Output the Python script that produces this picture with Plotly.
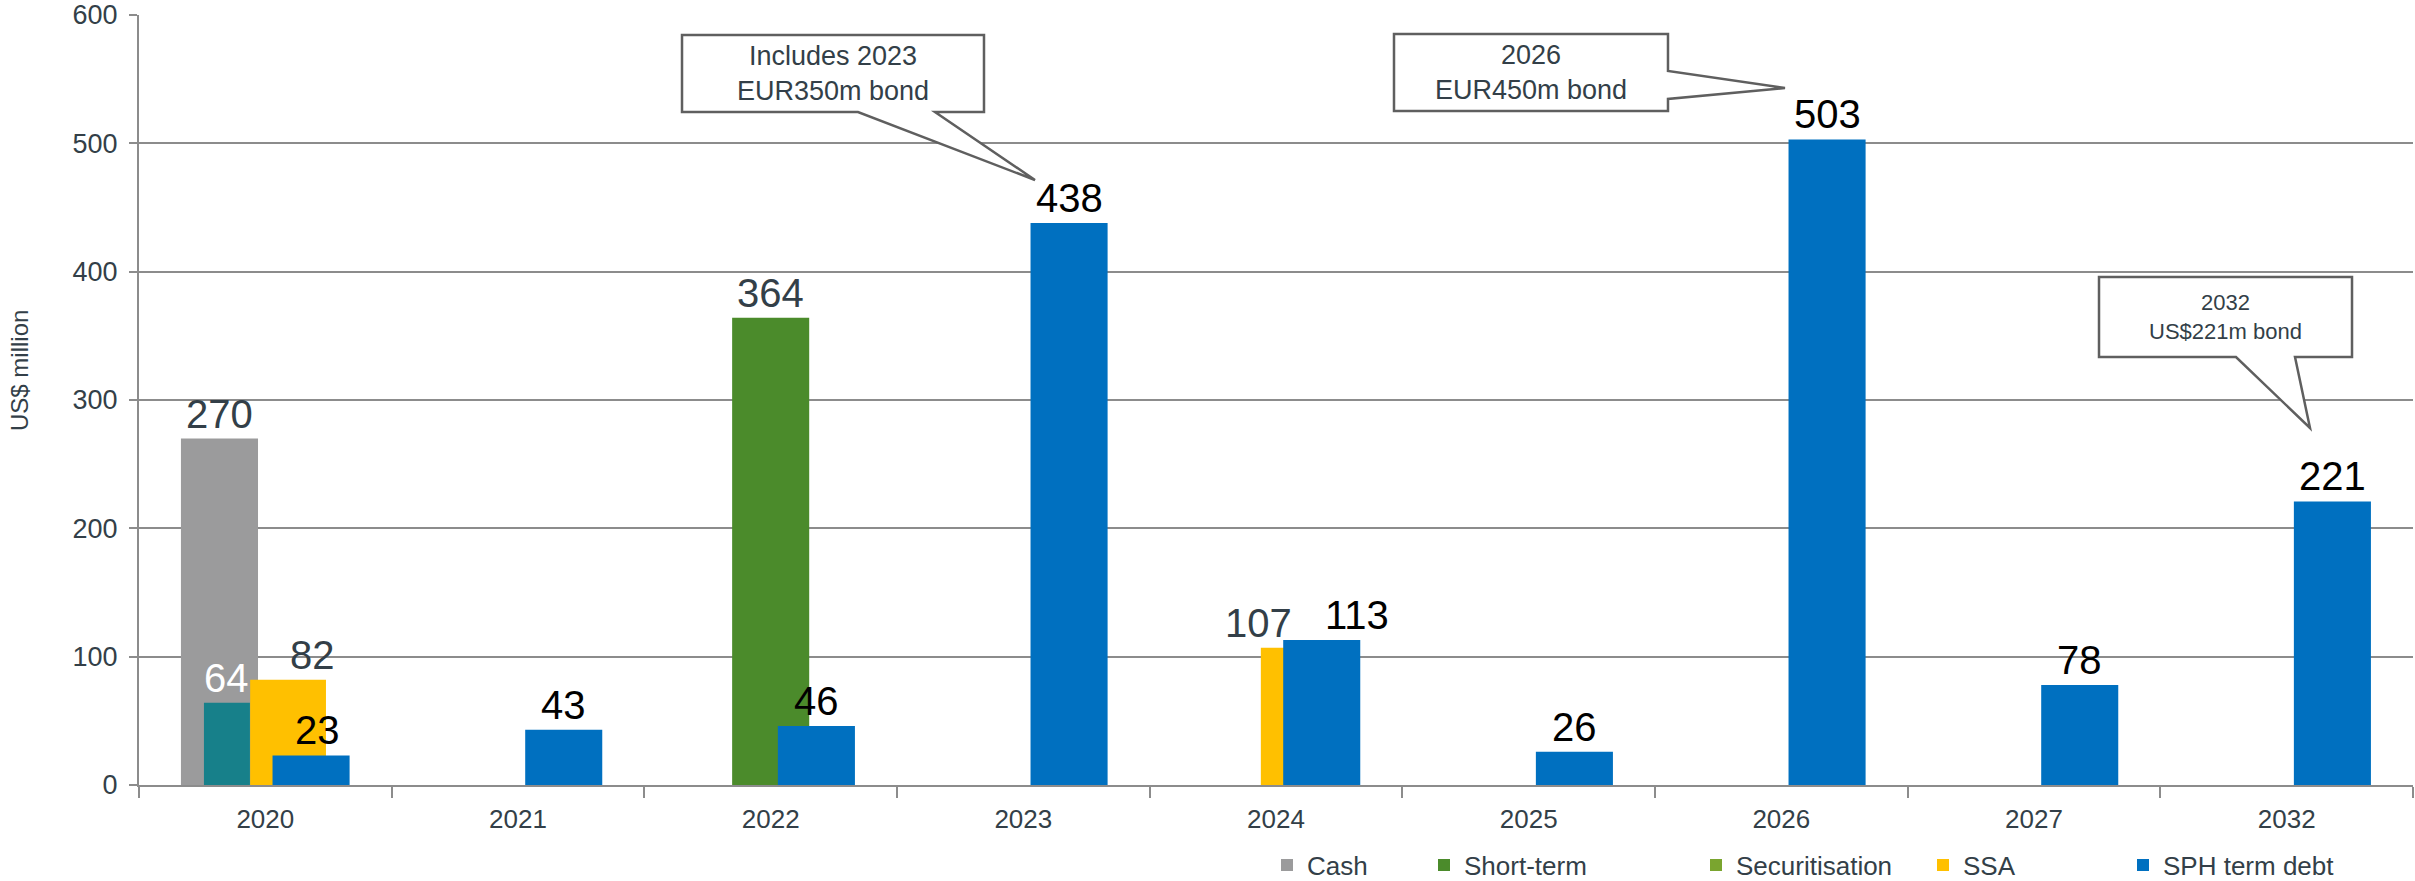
import plotly.graph_objects as go

# ---------------- data ----------------
years = ["2020", "2021", "2022", "2023", "2024", "2025", "2026", "2027", "2032"]
cash = [270, None, None, None, None, None, None, None, None]
other = [64, None, None, None, None, None, None, None, None]
short_term = [None, None, 364, None, None, None, None, None, None]
securitisation = [None, None, None, None, None, None, None, None, None]
ssa = [82, None, None, None, 107, None, None, None, None]
sph_term_debt = [23, 43, 46, 438, 113, 26, 503, 78, 221]

callout_texts = ["Includes 2023<br>EUR350m bond", "2026<br>EUR450m bond", "2032<br>US$221m bond"]

# ---------------- geometry / style ----------------
W, H = 2415, 881
ML, MR, MT, MB = 139, 2, 15, 96
PW = W - ML - MR
PH = H - MT - MB
CAT_PX = PW / len(years)

DARK = "#333f48"
GRID = "#8c8c8c"
FONT = "Liberation Sans, Arial, sans-serif"


def px_x(px):
    return (px - ML) / PW


def px_y(py):
    return (H - MB - py) / PH


fig = go.Figure()

# label nudges (pixels) for value labels that were moved aside in the source chart
label_nudge = {("SSA", "2020"): 24, ("SSA", "2024"): -40,
               ("SPH term debt", "2020"): 6, ("SPH term debt", "2024"): 35}


def add_bar(vals, name, color, width, offset, txtcolor, legend, showlegend=True):
    fig.add_trace(go.Bar(
        x=years, y=vals, name=name, marker_color=color, marker_line_width=0,
        width=width, offset=offset, cliponaxis=False,
        legend=legend, showlegend=showlegend, hoverinfo="x+y+name",
    ))
    for i, (yr, v) in enumerate(zip(years, vals)):
        if v is None:
            continue
        fig.add_annotation(
            x=i, y=v, text=str(v), showarrow=False, yanchor="bottom",
            xshift=(offset + width / 2) * CAT_PX + label_nudge.get((name, yr), 0), yshift=1,
            font=dict(size=40, color=txtcolor, family=FONT),
        )


add_bar(cash, "Cash", "#9b9b9c", 0.305, -0.334, DARK, "legend")
add_bar(other, "Other", "#17808a", 0.182, -0.243, "white", "legend", showlegend=False)
add_bar(short_term, "Short-term", "#4b8b2b", 0.305, -0.1525, DARK, "legend2")
add_bar(securitisation, "Securitisation", "#7aa52f", 0.305, -0.06, DARK, "legend3")
add_bar(ssa, "SSA", "#ffc000", 0.30, -0.06, DARK, "legend4")
add_bar(sph_term_debt, "SPH term debt", "#0070c0", 0.305, 0.0285, "black", "legend5")

# ---------------- callouts ----------------
# box (x0, y0, x1, y1), wedge base points and tip in pixel coordinates
callouts = [
    dict(box=(682, 35, 984, 112), base=[(935, 112), (858, 112)], tip=(1035, 180), size=27),
    dict(box=(1394, 34, 1668, 111), base=[(1668, 71), (1668, 99)], tip=(1785, 88), size=27),
    dict(box=(2099, 277, 2352, 357), base=[(2295, 357), (2236, 357)], tip=(2310, 428), size=22),
]
for c, txt in zip(callouts, callout_texts):
    x0, y0, x1, y1 = c["box"]
    (bx1, by1), (bx2, by2) = c["base"]
    tx, ty = c["tip"]
    if by1 == y1:  # wedge on bottom edge
        pts = [(x0, y0), (x1, y0), (x1, y1), (bx1, by1), (tx, ty), (bx2, by2), (x0, y1)]
    else:  # wedge on right edge
        pts = [(x0, y0), (x1, y0), (bx1, by1), (tx, ty), (bx2, by2), (x1, y1), (x0, y1)]
    path = "M " + " L ".join(f"{px_x(px):.5f},{px_y(py):.5f}" for px, py in pts) + " Z"
    fig.add_shape(type="path", path=path, xref="paper", yref="paper",
                  fillcolor="white", line=dict(color="#5f5f5f", width=2.5), layer="above")
    fig.add_annotation(
        x=px_x((x0 + x1) / 2), y=px_y((y0 + y1) / 2), xref="paper", yref="paper",
        text=txt, showarrow=False, xanchor="center", yanchor="middle",
        font=dict(size=c["size"], color=DARK, family=FONT),
    )

# y-axis title
fig.add_annotation(
    x=px_x(19), y=px_y(371), xref="paper", yref="paper", text="US$ million",
    textangle=-90, showarrow=False, xanchor="center", yanchor="middle",
    font=dict(size=24, color=DARK, family=FONT),
)

# ---------------- legends ----------------
legend_px = {"legend": 1283, "legend2": 1440, "legend3": 1712, "legend4": 1939, "legend5": 2139}
leg_common = dict(orientation="h", yanchor="middle", xanchor="left",
                  bgcolor="rgba(0,0,0,0)", font=dict(size=26, color=DARK, family=FONT),
                  itemwidth=30, tracegroupgap=0)
legend_layout = {}
for key, lx in legend_px.items():
    legend_layout[key] = dict(x=px_x(lx - 16), y=px_y(865), **leg_common)

fig.update_layout(
    width=W, height=H, autosize=False,
    margin=dict(l=ML, r=MR, t=MT, b=MB, autoexpand=False),
    barmode="overlay",
    plot_bgcolor="white", paper_bgcolor="white",
    font=dict(family=FONT, color=DARK),
    xaxis=dict(
        type="category", categoryorder="array", categoryarray=years,
        range=[-0.5, len(years) - 0.5], autorange=False,
        showgrid=False, showline=True, linecolor=GRID, linewidth=2,
        ticks="outside", tickson="boundaries", ticklen=11, tickcolor=GRID, tickwidth=2,
        tickfont=dict(size=26, color=DARK), ticklabelstandoff=10, tickangle=0,
    ),
    yaxis=dict(
        range=[0, 600], dtick=100, showgrid=True, gridcolor=GRID, gridwidth=2,
        showline=True, linecolor=GRID, linewidth=2, zeroline=False,
        ticks="outside", ticklen=8, tickcolor=GRID, tickwidth=2,
        tickfont=dict(size=27, color=DARK), ticklabelstandoff=6,
    ),
    **legend_layout,
)

fig.write_html(
    "out.html",
    config={"displayModeBar": False},
    post_script="document.body.style.margin='0';document.body.style.overflow='hidden';",
)
